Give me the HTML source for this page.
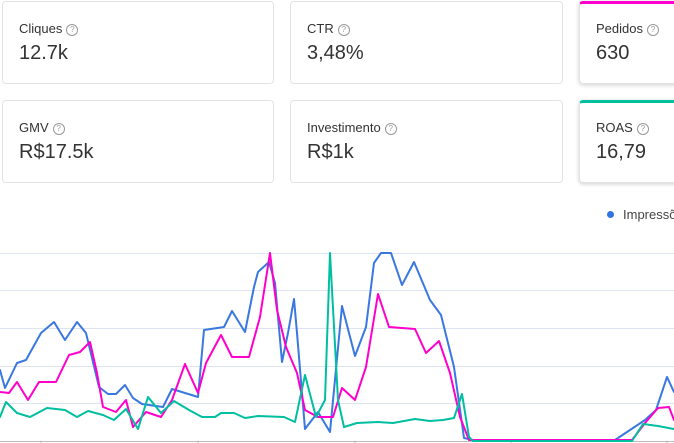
<!DOCTYPE html>
<html><head><style>
body{margin:0;width:674px;height:443px;overflow:hidden;background:#fff;font-family:"Liberation Sans",sans-serif;position:relative}
.c{position:absolute;border:1px solid #e3e3e3;border-radius:4px;box-sizing:border-box;background:#fff}
.l{position:absolute;left:16px;top:19px;font-size:13px;color:#333}
.v{position:absolute;left:16px;top:40px;font-size:20px;color:#333}
.q{display:inline-block;width:10px;height:10px;border:1px solid #999;border-radius:50%;font-size:8px;line-height:10px;text-align:center;color:#999;margin-left:4px;vertical-align:1px}
.s{box-shadow:0 1px 4px rgba(0,0,0,.2);border-top-left-radius:4px}
</style></head><body>
<div class="c" style="left:2px;top:1px;width:272px;height:83px"><div class="l">Cliques<span class="q">?</span></div><div class="v">12.7k</div></div>
<div class="c" style="left:290px;top:1px;width:273px;height:83px"><div class="l">CTR<span class="q">?</span></div><div class="v">3,48%</div></div>
<div class="c s" style="left:579px;top:1px;width:110px;height:83px;border-top:3px solid #f0c"><div class="l" style="top:17px">Pedidos<span class="q">?</span></div><div class="v" style="top:38px">630</div></div>
<div class="c" style="left:2px;top:100px;width:272px;height:83px"><div class="l">GMV<span class="q">?</span></div><div class="v">R$17.5k</div></div>
<div class="c" style="left:290px;top:100px;width:273px;height:83px"><div class="l">Investimento<span class="q">?</span></div><div class="v">R$1k</div></div>
<div class="c s" style="left:579px;top:100px;width:110px;height:83px;border-top:3px solid #00c0a0"><div class="l" style="top:17px">ROAS<span class="q">?</span></div><div class="v" style="top:38px">16,79</div></div>
<div style="position:absolute;left:607px;top:211px;width:7px;height:7px;border-radius:50%;background:#2f74e0"></div>
<div style="position:absolute;left:623px;top:207px;font-size:13px;color:#444;white-space:nowrap">Impressões</div>
<svg width="674" height="443" style="position:absolute;left:0;top:0" fill="none" stroke-linejoin="round" stroke-linecap="round">
<g stroke="#dde3f0" stroke-width="1"><line x1="0" y1="253.5" x2="674" y2="253.5"/><line x1="0" y1="290.5" x2="674" y2="290.5"/><line x1="0" y1="328.5" x2="674" y2="328.5"/><line x1="0" y1="366.5" x2="674" y2="366.5"/><line x1="0" y1="403.5" x2="674" y2="403.5"/></g>
<g stroke="#bbb"><line x1="0" y1="441.5" x2="674" y2="441.5"/><line x1="41" y1="441" x2="41" y2="443"/><line x1="198" y1="441" x2="198" y2="443"/><line x1="355" y1="441" x2="355" y2="443"/><line x1="511" y1="441" x2="511" y2="443"/><line x1="667" y1="441" x2="667" y2="443"/></g>
<polyline stroke="#3a78e0" stroke-width="2" points="0,370 5,388 17,363 26,360 41,333 54,322 65,340 77,322 86,333 99,387 108,394 116,394 125,385 133,398 142,404 163,407 172,389 198,397 204,330 224,327 232,311 245,332 254,287 258,272 269,262 275,283 282,362 288,333 294,299 297,333 305,429 318,412 330,432 342,306 355,356 366,327 374,263 381,253 391,253 402,285 414,262 430,300 441,315 454,367 464,438 473,440 615,440 645,420 656,410 667,377 674,392"/>
<polyline stroke="#f0c" stroke-width="2" points="0,392 9,393 17,382 28,400 39,382 56,382 69,355 80,352 90,342 97,373 103,407 116,412 126,400 133,427 146,412 161,417 172,400 185,364 198,393 206,363 221,335 232,357 249,357 260,317 270,253 277,310 286,347 297,373 305,410 318,417 333,417 342,388 355,400 366,367 378,294 389,327 415,329 426,353 439,341 450,373 460,417 469,440 632,440 645,423 658,408 669,407 674,420"/>
<polyline stroke="#00bfa0" stroke-width="2" points="0,417 6,402 17,413 30,417 47,408 65,410 77,417 88,411 103,415 114,420 126,409 138,429 148,397 161,413 174,401 189,410 202,417 215,417 221,413 234,413 245,418 258,416 284,417 295,422 305,375 316,417 325,400 330,253 338,400 344,427 357,423 378,422 393,423 415,419 430,421 443,420 454,418 462,394 469,437 473,441 632,441 643,424 658,426 674,429"/>
</svg>
</body></html>
